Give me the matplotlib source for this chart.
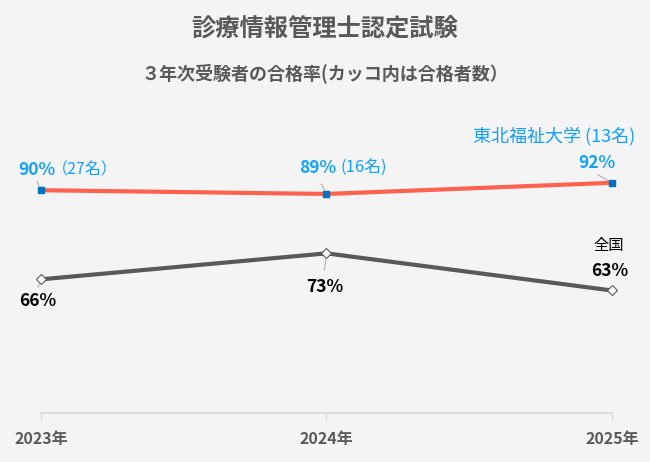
import matplotlib.pyplot as plt

plt.rcParams["font.family"] = ["Noto Sans CJK JP", "DejaVu Sans"]

years = ["2023年", "2024年", "2025年"]
tohoku = [90, 89, 92]
tohoku_n = ["（27名）", "(16名)", "(13名)"]
national = [66, 73, 63]

bg = "#f4f4f4"
red = "#ff6150"
blue = "#12a0ff"
dark = "#595959"

fig = plt.figure(figsize=(6.5, 4.62), dpi=100, facecolor=bg)
ax = fig.add_axes([0.063, 0.106, 0.8785, 0.643], facecolor=bg)

x = range(len(years))
ax.plot(x, tohoku, color=red, lw=3, zorder=2, clip_on=False)
ax.plot(x, tohoku, ls="none", marker="s", ms=5, color="#0070c0", zorder=3, clip_on=False)
ax.plot(x, national, color=dark, lw=3, zorder=2, clip_on=False)
ax.plot(x, national, ls="none", marker="D", ms=5, mfc="white", mec=dark, mew=0.8,
        zorder=3, clip_on=False)

ax.set_xlim(0, 2)
ax.set_ylim(30, 110)
ax.set_yticks([])
for s in ["top", "right", "left"]:
    ax.spines[s].set_visible(False)
ax.spines["bottom"].set_color("#d9d9d9")
ax.spines["bottom"].set_linewidth(1.2)
ax.set_xticks(list(x))
ax.set_xticklabels(years, fontsize=11.5, fontweight="bold", color=dark)
ax.tick_params(axis="x", length=5, color="#d9d9d9", width=1, pad=8)


def lab(i, v, s, dx, dy, ha="center", **kw):
    ax.annotate(s, xy=(i, v), xytext=(dx, dy), textcoords="offset pixels",
                ha=ha, va="center", annotation_clip=False, **kw)


def leader(i, v, dx, dy):
    ax.annotate("", xy=(i, v), xytext=(dx, dy), textcoords="offset pixels",
                annotation_clip=False,
                arrowprops=dict(arrowstyle="-", color="#a6a6a6", lw=0.7,
                                shrinkA=0, shrinkB=3))


# 東北福祉大学
lab(0, tohoku[0], f"{tohoku[0]}%", -4, 20, fontsize=12.5, fontweight="bold", color=blue)
lab(0, tohoku[0], tohoku_n[0], 11, 20, ha="left", fontsize=11.5, color=blue)
leader(0, tohoku[0], -4, 9)
lab(1, tohoku[1], f"{tohoku[1]}%", 10, 26, ha="right", fontsize=12.5, fontweight="bold", color=blue)
lab(1, tohoku[1], tohoku_n[1], 14, 26, ha="left", fontsize=12, color=blue)
leader(1, tohoku[1], -5, 10)
lab(2, tohoku[2], "東北福祉大学 " + tohoku_n[2], -58, 47, fontsize=13, color=blue)
lab(2, tohoku[2], f"{tohoku[2]}%", -15, 20, fontsize=12.5, fontweight="bold", color=blue)
leader(2, tohoku[2], -14, 8)

# 全国
lab(0, national[0], f"{national[0]}%", -3, -22, fontsize=12.5, fontweight="bold", color="black")
leader(0, national[0], -3, -8)
lab(1, national[1], f"{national[1]}%", -2, -34, fontsize=12.5, fontweight="bold", color="black")
leader(1, national[1], -2, -17)
lab(2, national[2], "全国", -3, 45, fontsize=11, color="black")
lab(2, national[2], f"{national[2]}%", -2, 19, fontsize=12.5, fontweight="bold", color="black")

fig.text(0.5, 1 - 30 / 462, "診療情報管理士認定試験", ha="center", va="center",
         fontsize=17.5, fontweight="bold", color=dark)
fig.text(0.5, 1 - 74 / 462, "３年次受験者の合格率(カッコ内は合格者数）", ha="center", va="center",
         fontsize=13, fontweight="bold", color=dark)

fig.savefig("out.png", dpi=100, facecolor=bg)
